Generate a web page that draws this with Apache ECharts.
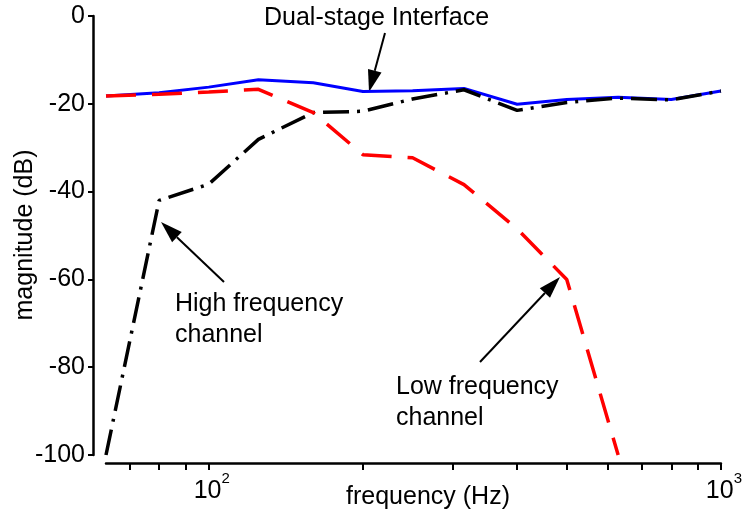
<!DOCTYPE html>
<html>
<head>
<meta charset="utf-8">
<script src="https://cdn.jsdelivr.net/npm/echarts@6/dist/echarts.min.js"></script>
<style>
  html, body { margin: 0; padding: 0; background: #fff; }
  #chart { width: 745px; height: 516px; }
</style>
</head>
<body>
<div id="chart"></div>
<script>
// 1/3-octave frequencies (Hz) and measured magnitudes (dB)
const freqs = [63, 80, 100, 125, 160, 200, 250, 315, 400, 500, 630, 800, 1000];
const dualStage = [-18.2, -17.5, -16.2, -14.5, -15.2, -17.2, -17.0, -16.5, -20.1, -19.0, -18.5, -19.0, -17.1];
const highChannel = [-100, -42.0, -38.3, -28.1, -22.0, -21.7, -18.9, -16.8, -21.5, -19.7, -18.7, -19.1, -17.1];
const lowChannel = [-18.2, -17.8, -17.3, -16.7, -22.0, -31.6, -32.3, -38.4, -48.5, -60.0, -100];

const xTickValues = [70, 80, 90, 100, 200, 300, 400, 500, 600, 700, 800, 900, 1000];
const xLabelValues = [100, 1000];

const FONT = '"Liberation Sans", Arial, Helvetica, sans-serif';
const FS = 25;

function pairs(values) {
  return values.map((v, i) => [freqs[i], v]);
}

// simple arrow: shaft + filled head, pointing at (x2, y2)
function arrow(x1, y1, x2, y2) {
  const len = 22, half = 7;
  const a = Math.atan2(y2 - y1, x2 - x1);
  const bx = x2 - len * Math.cos(a), by = y2 - len * Math.sin(a);
  const px = -Math.sin(a) * half, py = Math.cos(a) * half;
  return [
    {
      type: 'line',
      shape: { x1: x1, y1: y1, x2: bx, y2: by },
      style: { stroke: '#000', lineWidth: 2 }
    },
    {
      type: 'polygon',
      shape: { points: [[x2, y2], [bx + px, by + py], [bx - px, by - py]] },
      style: { fill: '#000' }
    }
  ];
}

function label(text, x, y, align, rotation) {
  return {
    type: 'text',
    x: x,
    y: y,
    rotation: rotation || 0,
    style: {
      text: text,
      fontSize: FS,
      fontFamily: FONT,
      fill: '#000',
      align: align || 'left',
      verticalAlign: 'middle'
    }
  };
}

const chart = echarts.init(document.getElementById('chart'));

chart.setOption({
  animation: false,
  backgroundColor: '#fff',
  grid: { left: 106, right: 20, top: 16, bottom: 61 },
  xAxis: {
    type: 'log',
    logBase: 10,
    min: 63,
    max: 1000,
    offset: 8,
    axisLine: { onZero: false, lineStyle: { color: '#000', width: 2.5 } },
    axisTick: {
      show: true,
      customValues: xTickValues,
      length: 7,
      lineStyle: { color: '#000', width: 2 }
    },
    axisLabel: {
      customValues: xLabelValues,
      margin: 8,
      padding: [0, 0, 0, 6],
      formatter: function (v) {
        return '{b|10}{s|' + Math.round(Math.log10(v)) + '}';
      },
      rich: {
        b: { fontSize: FS, fontFamily: FONT, color: '#000', verticalAlign: 'bottom', padding: [8, 0, 0, 0] },
        s: { fontSize: 15, fontFamily: FONT, color: '#000', verticalAlign: 'top' }
      }
    },
    splitLine: { show: false }
  },
  yAxis: {
    type: 'value',
    min: -100,
    max: 0,
    interval: 20,
    offset: 13,
    axisLine: { show: true, lineStyle: { color: '#000', width: 2.5 } },
    axisTick: { show: true, length: 5, lineStyle: { color: '#000', width: 2 } },
    axisLabel: { fontSize: FS, fontFamily: FONT, color: '#000', margin: 8 },
    splitLine: { show: false }
  },
  series: [
    {
      name: 'Dual-stage Interface',
      type: 'line',
      data: pairs(dualStage),
      symbol: 'none',
      lineStyle: { color: '#0000ff', width: 3 }
    },
    {
      name: 'High frequency channel',
      type: 'line',
      data: pairs(highChannel),
      symbol: 'none',
      lineStyle: { color: '#000', width: 3.5, type: [26, 8, 3, 8], cap: 'butt' }
    },
    {
      name: 'Low frequency channel',
      type: 'line',
      data: pairs(lowChannel),
      symbol: 'none',
      lineStyle: { color: '#ff0000', width: 3.5, type: [30, 16], cap: 'butt' }
    }
  ],
  graphic: [
    label('Dual-stage Interface', 264, 18),
    label('High frequency', 175, 304),
    label('channel', 175, 335),
    label('Low frequency', 396, 387),
    label('channel', 396, 418),
    label('frequency (Hz)', 428, 497, 'center'),
    label('magnitude (dB)', 25, 235, 'center', Math.PI / 2)
  ].concat(
    arrow(385, 33, 369, 92),
    arrow(224, 282, 161, 222),
    arrow(480, 362, 560, 277)
  )
});
</script>
</body>
</html>
